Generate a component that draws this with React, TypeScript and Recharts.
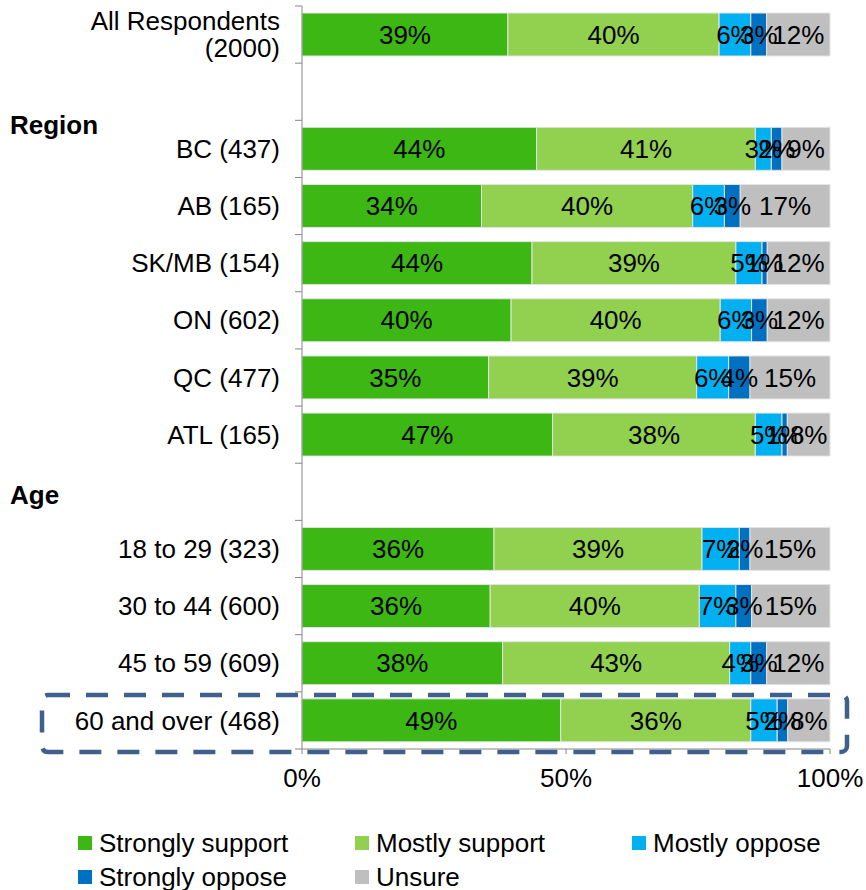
import { BarChart, Bar, XAxis, YAxis, LabelList } from 'recharts'

const categories = [
  'All Respondents\n(2000)',
  'Region',
  'BC (437)',
  'AB (165)',
  'SK/MB (154)',
  'ON (602)',
  'QC (477)',
  'ATL (165)',
  'Age',
  '18 to 29 (323)',
  '30 to 44 (600)',
  '45 to 59 (609)',
  '60 and over (468)',
]
const headers = ['Region', 'Age']

const stronglySupport = [39, null, 44, 34, 44, 40, 35, 47, null, 36, 36, 38, 49]
const mostlySupport = [40, null, 41, 40, 39, 40, 39, 38, null, 39, 40, 43, 36]
const mostlyOppose = [6, null, 3, 6, 5, 6, 6, 5, null, 7, 7, 4, 5]
const stronglyOppose = [3, null, 2, 3, 1, 3, 4, 1, null, 2, 3, 3, 2]
const unsure = [12, null, 9, 17, 12, 12, 15, 8, null, 15, 15, 12, 8]

const xTicks = [0, 0.5, 1]

const series = [
  { key: 'ss', name: 'Strongly support', color: '#3cb714', values: stronglySupport },
  { key: 'ms', name: 'Mostly support', color: '#92d050', values: mostlySupport },
  { key: 'mo', name: 'Mostly oppose', color: '#00b0f0', values: mostlyOppose },
  { key: 'so', name: 'Strongly oppose', color: '#0070c0', values: stronglyOppose },
  { key: 'un', name: 'Unsure', color: '#bfbfbf', values: unsure },
]

const data = categories.map((cat, i) => {
  const row: Record<string, any> = { cat }
  series.forEach((s) => {
    row[s.key] = s.values[i]
  })
  return row
})

const W = 866
const H = 890
const FONT = '"Liberation Sans", Arial, sans-serif'
const M = { top: 6, right: 36, bottom: 81, left: 0 }
const X_AXIS_H = 60
const Y_AXIS_W = 302
const PLOT_H = H - M.top - M.bottom - X_AXIS_H
const HALF_BAND = PLOT_H / categories.length / 2
const headerShift: Record<string, number> = { Region: 33, Age: 3 }

function YTick(props: any) {
  const { y, payload, index } = props
  const axisX = M.left + Y_AXIS_W
  const label: string = payload.value
  const isHeader = headers.includes(label)
  const lines = label.split('\n')
  const tickLines = (
    <>
      <line x1={axisX - 7} x2={axisX} y1={y - HALF_BAND} y2={y - HALF_BAND} stroke="#868686" />
      {index === categories.length - 1 && (
        <line x1={axisX - 7} x2={axisX} y1={y + HALF_BAND} y2={y + HALF_BAND} stroke="#868686" />
      )}
    </>
  )
  if (isHeader) {
    return (
      <g>
        {tickLines}
        <text x={10} y={y + headerShift[label]} dy="0.35em" textAnchor="start" fontSize={26} fontWeight="bold" fill="#000" fontFamily={FONT}>
          {label}
        </text>
      </g>
    )
  }
  return (
    <g>
      {tickLines}
      <text x={axisX - 22} y={y} textAnchor="end" fontSize={26} fill="#000" fontFamily={FONT}>
        {lines.map((ln, i) => (
          <tspan key={i} x={axisX - 22} dy={i === 0 ? `${0.35 - (lines.length - 1) * 0.52}em` : '1.04em'}>
            {ln}
          </tspan>
        ))}
      </text>
    </g>
  )
}

function LegendBox() {
  return (
    <div style={{ position: 'absolute', left: 0, top: 826, width: W, height: 70, fontFamily: FONT, fontSize: 26, color: '#000' }}>
      {series.map((s, i) => {
        const col = i % 3
        const row = Math.floor(i / 3)
        return (
          <div
            key={s.key}
            style={{
              position: 'absolute',
              left: 78 + col * 277,
              top: row * 34,
              display: 'flex',
              alignItems: 'center',
              height: 34,
              whiteSpace: 'nowrap',
            }}
          >
            <span style={{ display: 'inline-block', width: 14, height: 14, background: s.color, marginRight: 7 }} />
            <span>{s.name}</span>
          </div>
        )
      })}
    </div>
  )
}

export default function App() {
  return (
    <div style={{ position: 'absolute', left: 0, top: 0, width: W, height: H, background: '#fff' }}>
      <BarChart
        width={W}
        height={H}
        data={data}
        layout="vertical"
        stackOffset="expand"
        margin={M}
        barSize={43}
      >
        <XAxis
          type="number"
          ticks={xTicks}
          domain={[0, 1]}
          tickFormatter={(v: number) => `${Math.round(v * 100)}%`}
          height={X_AXIS_H}
          stroke="#868686"
          tickSize={5}
          tickMargin={15}
          tick={{ fill: '#000', fontSize: 26, fontFamily: FONT }}
          interval={0}
        />
        <YAxis
          type="category"
          dataKey="cat"
          width={Y_AXIS_W}
          stroke="#868686"
          tickLine={false}
          interval={0}
          tick={<YTick />}
        />
        {series.map((s) => (
          <Bar
            key={s.key}
            dataKey={s.key}
            name={s.name}
            stackId="a"
            fill={s.color}
            stroke="#e4e4e4"
            strokeWidth={1}
            isAnimationActive={false}
          >
            <LabelList
              dataKey={s.key}
              position="center"
              fill="#000"
              fontSize={26}
              fontFamily={FONT}
              formatter={(v: any) => (v == null ? '' : `${v}%`)}
            />
          </Bar>
        ))}
      </BarChart>
      <LegendBox />
      <svg width={W} height={H} style={{ position: 'absolute', left: 0, top: 0, pointerEvents: 'none' }}>
        <rect
          x={42}
          y={695}
          width={805}
          height={57}
          rx={6}
          fill="none"
          stroke="#3f5f8c"
          strokeWidth={4.5}
          strokeDasharray="22 16"
        />
      </svg>
    </div>
  )
}
